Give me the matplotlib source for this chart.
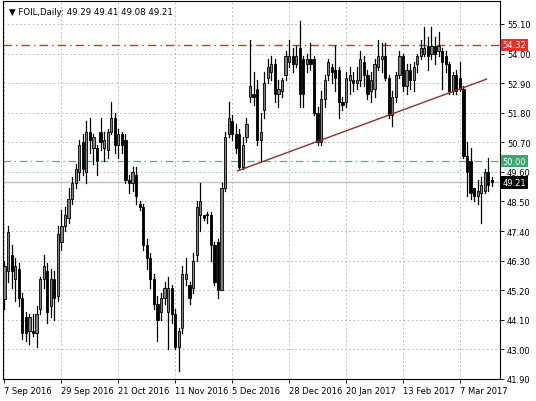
import matplotlib.pyplot as plt
from matplotlib.patches import Rectangle

# FOIL daily candles, 7 Sep 2016 .. mid Mar 2017
opens = [44.87, 45.9, 46.5, 45.6, 46.0, 44.9, 44.2, 43.7, 43.7, 43.6,
         44.5, 45.6, 45.9, 44.6, 45.6, 45.0, 47.0, 47.6, 47.9, 48.6,
         49.2, 49.6, 50.7, 49.6, 51.1, 50.5, 50.5, 51.1, 50.5, 50.4,
         51.1, 51.6, 50.6, 51.0, 50.8, 49.3, 49.2, 49.5, 48.4, 48.3,
         46.9, 46.4, 45.6, 44.7, 44.4, 44.9, 44.4, 45.3, 44.3, 43.1,
         43.8, 45.6, 45.4, 45.3, 46.5, 48.0, 48.0, 48.0, 48.0, 46.9,
         47.0, 45.2, 49.0, 51.0, 51.5, 51.0, 51.0, 49.8, 50.9, 52.4,
         52.5, 52.7, 50.8, 51.9, 53.1, 53.3, 53.6, 52.5, 52.6, 53.2,
         53.7, 53.9, 53.6, 54.2, 53.8, 53.6, 53.8, 53.8, 51.8, 50.7,
         52.3, 53.2, 53.5, 53.4, 53.4, 52.2, 52.2, 53.0, 53.0, 52.9,
         53.0, 53.7, 53.2, 52.6, 52.7, 53.5, 53.8, 53.9, 53.1, 51.7,
         52.4, 53.2, 53.9, 52.8, 53.4, 53.0, 53.6, 53.9, 54.0, 54.3,
         54.0, 54.3, 54.1, 54.1, 53.9, 53.6, 52.6, 53.2, 53.1, 52.7,
         50.2, 50.0, 49.0, 48.7, 48.8, 48.9, 49.6, 49.29]
highs = [46.3, 47.6, 46.9, 46.4, 46.2, 45.1, 44.4, 44.3, 44.3, 44.6,
         45.7, 46.5, 46.2, 46.0, 45.9, 47.6, 48.2, 48.3, 49.0, 49.4,
         49.9, 50.8, 51.0, 51.5, 51.6, 51.0, 50.6, 51.6, 51.1, 51.2,
         52.2, 51.8, 51.2, 51.1, 51.0, 49.5, 49.8, 49.8, 48.5, 48.4,
         47.1, 46.6, 45.8, 45.0, 45.1, 45.5, 45.7, 45.4, 44.5, 43.8,
         46.1, 46.4, 45.5, 46.6, 48.5, 49.2, 48.0, 48.1, 48.1, 47.0,
         47.1, 49.2, 51.1, 52.2, 51.7, 51.4, 51.2, 50.9, 51.6, 54.5,
         53.3, 53.0, 51.8, 53.3, 53.8, 53.9, 53.8, 53.0, 53.1, 54.1,
         54.5, 54.2, 54.3, 55.2, 53.9, 54.0, 54.4, 53.9, 52.0, 52.6,
         53.2, 53.8, 53.6, 54.3, 53.5, 52.4, 53.3, 53.5, 53.3, 53.5,
         54.1, 53.9, 53.4, 53.3, 53.8, 54.5, 54.4, 54.4, 53.2, 52.6,
         53.3, 54.1, 54.0, 53.6, 53.6, 53.7, 54.0, 54.5, 55.0, 54.6,
         55.0, 54.6, 54.8, 54.2, 54.1, 53.7, 53.3, 53.4, 53.7, 52.8,
         50.7, 50.5, 49.0, 49.3, 49.4, 49.7, 50.1, 49.41]
lows = [44.5, 45.5, 45.3, 44.8, 44.6, 43.4, 43.3, 43.2, 43.5, 43.1,
        44.3, 45.3, 44.0, 44.2, 44.1, 44.8, 46.7, 47.4, 47.7, 48.4,
        49.0, 49.3, 49.5, 49.2, 50.3, 49.9, 49.5, 50.4, 50.0, 50.1,
        51.0, 50.3, 50.1, 50.3, 49.2, 48.8, 48.9, 48.4, 48.2, 46.7,
        46.0, 45.3, 44.5, 43.3, 44.1, 44.7, 43.0, 44.0, 43.0, 42.2,
        43.6, 45.4, 44.7, 45.1, 46.3, 47.4, 47.8, 47.7, 46.3, 45.4,
        44.9, 45.2, 48.9, 50.9, 50.8, 50.3, 49.7, 49.7, 50.7, 52.2,
        52.1, 50.6, 50.0, 51.6, 52.9, 53.0, 52.2, 52.0, 52.4, 53.0,
        53.5, 53.3, 53.5, 52.0, 52.0, 53.3, 53.4, 51.7, 50.6, 50.6,
        52.0, 53.0, 52.9, 52.6, 51.6, 51.9, 52.0, 52.5, 52.6, 52.7,
        52.8, 52.8, 52.3, 52.2, 52.4, 53.4, 53.3, 53.0, 51.6, 51.3,
        52.2, 53.1, 52.6, 52.5, 52.7, 52.6, 53.3, 53.8, 53.9, 53.4,
        53.8, 53.6, 53.9, 52.7, 53.3, 52.5, 52.5, 52.5, 52.6, 50.1,
        48.7, 48.6, 48.5, 48.4, 47.7, 48.8, 48.9, 49.08]
closes = [46.11, 47.35, 45.9, 46.1, 44.9, 43.6, 43.6, 44.2, 43.6, 44.3,
          45.6, 46.1, 44.4, 45.6, 44.9, 47.3, 47.6, 48.0, 48.6, 49.2,
          49.7, 50.6, 49.7, 51.1, 50.8, 50.9, 50.0, 50.7, 50.8, 51.1,
          51.6, 50.6, 51.0, 50.6, 49.3, 49.2, 49.6, 48.7, 48.3, 46.9,
          46.4, 45.6, 44.7, 44.1, 44.9, 45.3, 45.3, 44.3, 43.1, 43.7,
          45.8, 45.8, 44.9, 46.3, 48.3, 48.5, 47.9, 48.0, 46.9, 45.5,
          45.2, 49.0, 50.9, 51.6, 51.0, 50.5, 49.8, 50.6, 51.4, 52.8,
          52.4, 50.8, 51.1, 52.9, 53.5, 53.6, 52.5, 52.7, 53.0, 53.9,
          53.9, 53.6, 53.9, 52.5, 52.5, 53.8, 53.6, 51.8, 50.7, 52.3,
          53.0, 53.7, 53.3, 53.1, 52.2, 52.1, 53.1, 53.2, 52.9, 53.0,
          53.8, 53.2, 52.5, 53.0, 53.6, 53.9, 53.9, 53.1, 51.7, 52.4,
          53.2, 53.9, 52.8, 53.4, 53.0, 53.5, 53.9, 54.2, 54.2, 53.9,
          54.3, 54.0, 54.3, 53.7, 53.6, 52.6, 53.2, 52.6, 52.7, 50.2,
          49.6, 48.8, 48.7, 48.9, 49.1, 49.6, 49.1, 49.21]

date_labels = ['7 Sep 2016', '29 Sep 2016', '21 Oct 2016', '11 Nov 2016', '5 Dec 2016',
               '28 Dec 2016', '20 Jan 2017', '13 Feb 2017', '7 Mar 2017']
date_pos = [0, 16, 32, 48, 64, 80, 96, 112, 128]
price_ticks = [55.10, 54.00, 52.90, 51.80, 50.70, 49.60, 48.50, 47.40, 46.30,
               45.20, 44.10, 43.00, 41.90]
resistance = 54.32
level_50 = 50.00
last_price = 49.21
trend_x = [65.5, 135.5]
trend_y = [49.64, 53.05]

fig = plt.figure(figsize=(5.36, 4.02), dpi=100)
ax = fig.add_axes([3 / 536, 22 / 402, 497 / 536, 378 / 402])

w = 0.62
for i, (o, h, l, c) in enumerate(zip(opens, highs, lows, closes)):
    ax.plot([i, i], [l, h], color='black', lw=0.9, zorder=3)
    face = '#808080' if c >= o else 'black'
    body = max(abs(c - o), 0.03)
    ax.add_patch(Rectangle((i - w / 2, min(o, c)), w, body, facecolor=face,
                           edgecolor='black', lw=0.6, zorder=4))

ax.axhline(resistance, color='#c0392b', lw=1, ls=(0, (6, 3, 1, 3)), zorder=2)
ax.axhline(level_50, color='#5fa88a', lw=0.9, ls=(0, (6, 3, 1, 3)), zorder=2)
ax.axhline(last_price, color='#c0c0c0', lw=1, zorder=1)
ax.plot(trend_x, trend_y, color='#8b2e2e', lw=1, zorder=5)

ax.set_xlim(-0.42, 139.27)
ax.set_ylim(41.90, 55.955)
ax.yaxis.tick_right()
ax.set_yticks(price_ticks)
ax.set_yticklabels([f'{p:.2f}' for p in price_ticks])
ax.set_xticks(date_pos)
ax.set_xticklabels(date_labels, ha='left')
ax.tick_params(labelsize=6, length=3, width=0.6, pad=2)
ax.grid(True, color='#b0b0b0', ls=(0, (2, 3)), lw=0.6)
for s in ax.spines.values():
    s.set_linewidth(0.8)

for val, bg in [(resistance, '#e8302a'), (level_50, '#3aa872'), (last_price, 'black')]:
    ax.text(1.005, val, f'{val:.2f}', transform=ax.get_yaxis_transform(), fontsize=6,
            color='white', va='center', ha='left',
            bbox=dict(boxstyle='square,pad=0.2', fc=bg, ec='none'))

ax.text(0.012, 0.985, '\u25bc FOIL,Daily: 49.29 49.41 49.08 49.21', transform=ax.transAxes,
        fontsize=6.2, va='top', ha='left')

fig.savefig('out.png', dpi=100)
